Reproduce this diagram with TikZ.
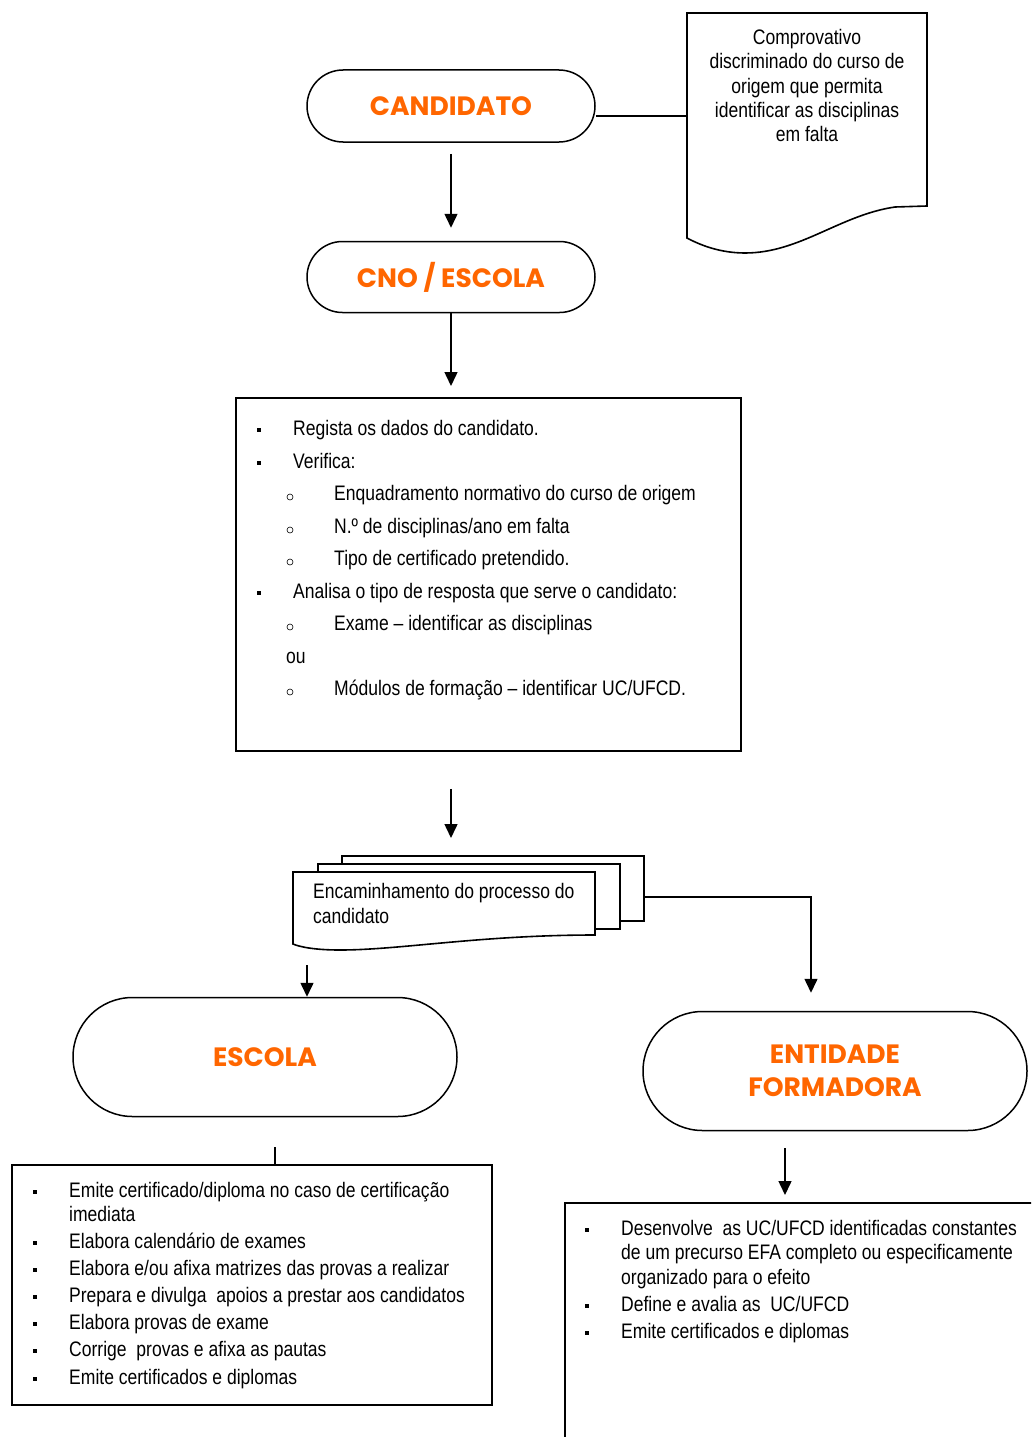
\documentclass[tikz,border=0pt]{standalone}
\usepackage{fontspec}
\setmainfont{Liberation Sans}[FakeStretch=0.835]
\newfontfamily\titlefont{Poppins}
\usetikzlibrary{arrows.meta,calc}
\definecolor{titleorange}{RGB}{255,102,0}
\begin{document}
\begin{tikzpicture}[x=1pt,y=-1pt,
  body/.style={font=\fontsize{21}{24.3}\selectfont, inner sep=0, anchor=base west},
  term/.style={draw, line width=1.5pt, rectangle, align=center, inner sep=0,
    font=\titlefont\bfseries\fontsize{26.5}{33}\selectfont, text=titleorange},
  frame/.style={draw, line width=1.8pt, rectangle, inner sep=0, anchor=north west},
  page/.style={draw, line width=1.6pt, fill=white, rectangle, inner sep=0, anchor=north west},
  sqb/.style={fill, rectangle, minimum width=4pt, minimum height=4.5pt, inner sep=0},
  cib/.style={draw, circle, minimum size=6pt, inner sep=0, line width=0.6pt},
  arr/.style={line width=1.5pt, -{Triangle[width=13pt,length=14pt]}},
  conn/.style={line width=1.5pt}]
\useasboundingbox (0,0) rectangle (1031,1437);
\clip (0,0) rectangle (1031,1437);

% document shape top right
\draw[line width=1.6pt] (687,13) -- (927,13) -- (927,206) -- (895,207)
  .. controls (840,215) and (800,253) .. (745,253)
  .. controls (720,253) and (700,245) .. (687,238) -- cycle;
\coordinate (docL) at (687,116);
\node[font=\fontsize{21}{24.3}\selectfont, align=center, anchor=north, inner sep=0] (doctext) at (807,29)
  {Comprovativo\\discriminado do curso de\\origem que permita\\identificar as disciplinas\\em falta};

% terminators
\node[term, minimum width=288pt, minimum height=72pt, rounded corners=36pt] (cand) at (451,106) {CANDIDATO};
\node[term, minimum width=288pt, minimum height=71pt, rounded corners=35.5pt] (cno) at (451,277) {CNO / ESCOLA};
\node[term, minimum width=384pt, minimum height=119pt, rounded corners=59.5pt] (esc) at (265,1057) {ESCOLA};
\node[term, minimum width=384pt, minimum height=119pt, rounded corners=59.5pt] (ent) at (835,1071) {ENTIDADE\\FORMADORA};

\draw[conn] (cand.east |- docL) -- (docL);
\draw[arr] ([yshift=-11pt]cand.south) -- ([yshift=13pt]cno.north);

% main box
\node[frame, minimum width=505pt, minimum height=353pt] (box1) at (235,397) {};
\draw[arr] (cno.south) -- ($(box1.north -| cno.south)+(0,-11)$);

\node[sqb] (b1) at (259,430) {};
\node[body] (t1) at (293,435) {Regista os dados do candidato.};
\node[sqb] (b2) at (259,463) {};
\node[body] (t2) at (293,468) {Verifica:};
\node[cib] (c1) at (290,497) {};
\node[body] (t3) at (334,500) {Enquadramento normativo do curso de origem};
\node[cib] (c2) at (290,530) {};
\node[body] (t4) at (334,533) {N.º de disciplinas/ano em falta};
\node[cib] (c3) at (290,562) {};
\node[body] (t5) at (334,565) {Tipo de certificado pretendido.};
\node[sqb] (b3) at (259,593) {};
\node[body] (t6) at (293,598) {Analisa o tipo de resposta que serve o candidato:};
\node[cib] (c4) at (290,627) {};
\node[body] (t7) at (334,630) {Exame – identificar as disciplinas};
\node[body] (t8) at (286,663) {ou};
\node[cib] (c5) at (290,692) {};
\node[body] (t9) at (334,695) {Módulos de formação – identificar UC/UFCD.};

% multi-document
\node[page, minimum width=302pt, minimum height=65pt] (pg3) at (341,855) {};
\node[page, minimum width=302pt, minimum height=65pt] (pg2) at (317,863) {};
\draw[line width=1.6pt, fill=white] (293,872) -- (595,872) -- (595,935)
  .. controls (480,935) and (400,950) .. (340,950)
  .. controls (315,950) and (300,947) .. (293,944) -- cycle;
\node[body] (m1) at (313,898) {Encaminhamento do processo do};
\node[body] (m2) at (313,923) {candidato};

\draw[arr] ($(box1.south -| cno.south)+(0,37)$) -- ($(pg3.north -| cno.south)+(0,-17)$);

\coordinate (e1) at (811,897);
\draw[arr] (pg3.east |- e1) -| ($(e1 |- ent.north)+(0,-18)$);

\coordinate (a4) at (307,965);
\draw[arr] (a4) -- (a4 |- esc.north);

% left box
\node[frame, minimum width=480pt, minimum height=240pt] (box2) at (11,1164) {};
\coordinate (l5) at (275,1147);
\draw[conn] (l5) -- (l5 |- box2.north);

\node[sqb] (lb1) at (35,1192) {};
\node[body] (lt1) at (69,1197) {Emite certificado/diploma no caso de certificação};
\node[body] (lt1b) at (69,1221) {imediata};
\node[sqb] (lb2) at (35,1243) {};
\node[body] (lt2) at (69,1248) {Elabora calendário de exames};
\node[sqb] (lb3) at (35,1270) {};
\node[body] (lt3) at (69,1275) {Elabora e/ou afixa matrizes das provas a realizar};
\node[sqb] (lb4) at (35,1297) {};
\node[body] (lt4) at (69,1302) {Prepara e divulga\ \ apoios a prestar aos candidatos};
\node[sqb] (lb5) at (35,1324) {};
\node[body] (lt5) at (69,1329) {Elabora provas de exame};
\node[sqb] (lb6) at (35,1351) {};
\node[body] (lt6) at (69,1356) {Corrige\ \ provas e afixa as pautas};
\node[sqb] (lb7) at (35,1379) {};
\node[body] (lt7) at (69,1384) {Emite certificados e diplomas};

% right box
\node[frame, minimum width=480pt, minimum height=260pt] (box3) at (564,1202) {};
\coordinate (a6) at (785,1148);
\draw[arr] (a6) -- ($(a6 |- box3.north)+(0,-7)$);

\node[sqb] (rb1) at (587,1230) {};
\node[body] (rt1) at (621,1235) {Desenvolve\ \ as UC/UFCD identificadas constantes};
\node[body] (rt1b) at (621,1259) {de um precurso EFA completo ou especificamente};
\node[body] (rt1c) at (621,1284) {organizado para o efeito};
\node[sqb] (rb2) at (587,1306) {};
\node[body] (rt2) at (621,1311) {Define e avalia as\ \ UC/UFCD};
\node[sqb] (rb3) at (587,1333) {};
\node[body] (rt3) at (621,1338) {Emite certificados e diplomas};
\end{tikzpicture}
\end{document}
